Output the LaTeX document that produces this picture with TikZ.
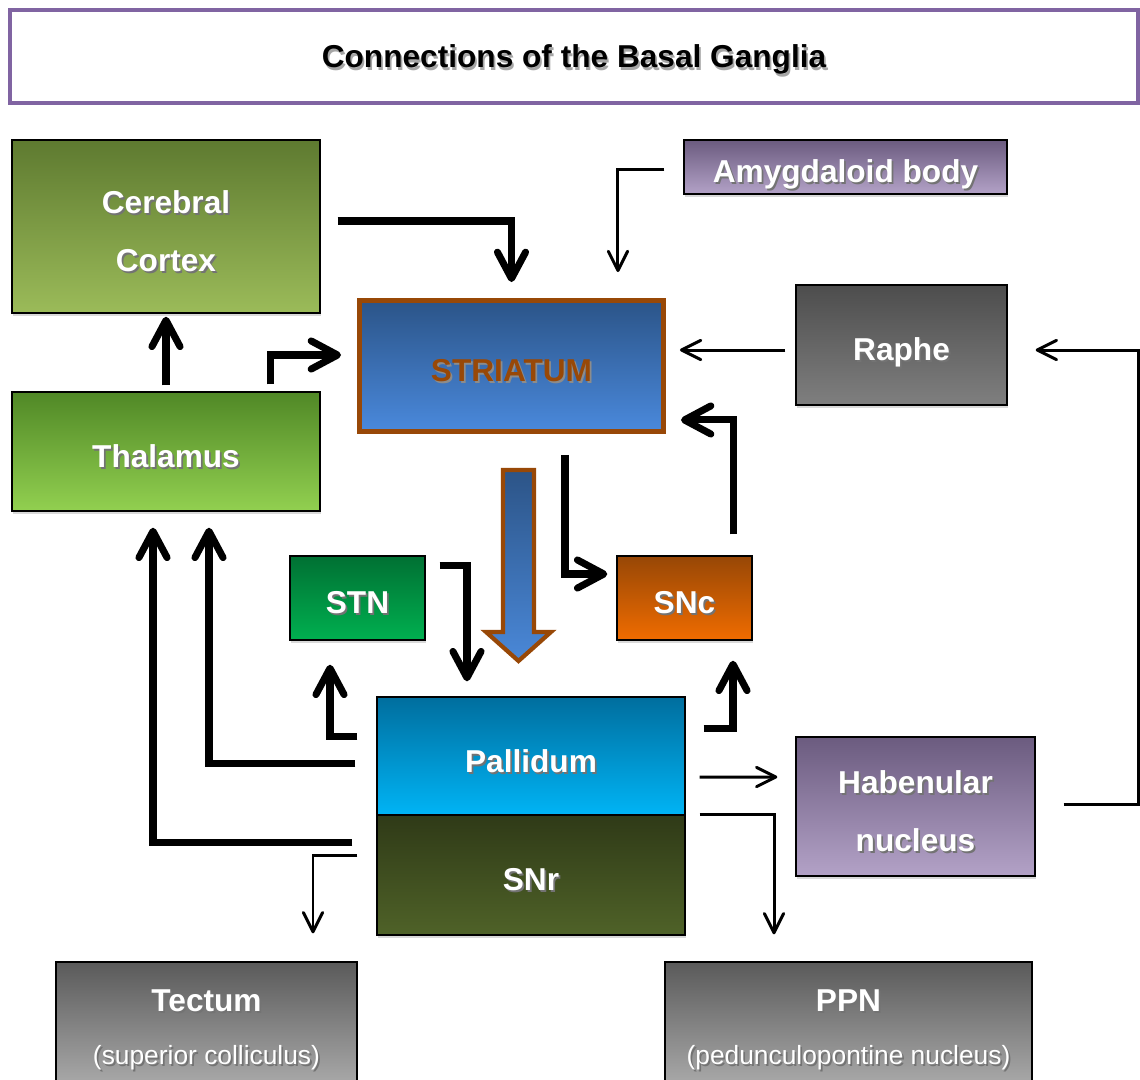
\documentclass[tikz,border=0pt]{standalone}
\usepackage{fontspec}
\setmainfont{Liberation Sans}
\usetikzlibrary{positioning,shadows,arrows.meta}

\definecolor{titlepurple}{HTML}{8064A2}
\definecolor{brownc}{HTML}{984807}
% text with a soft shadow, set a little lower in its box
\newcommand{\shd}[2][black!55]{\raisebox{-4.6pt}[\height][\depth]{\rlap{\kern1pt\raisebox{-1.2pt}{\textcolor{#1}{#2}}}#2}\vphantom{p}}

\begin{document}
\begin{tikzpicture}[
    box/.style={draw=black, line width=0.8pt, text=white, inner sep=0pt, align=center,
        font=\fontsize{18}{33}\selectfont\bfseries,
        drop shadow={opacity=0.3, shadow xshift=0.6pt, shadow yshift=-1.6pt}},
    bigarr/.style={line width=4pt, -{Straight Barb[length=15pt,width=16pt,round]}},
    smallarr/.style={line width=1.7pt, -{Straight Barb[length=11pt,width=11pt,round]}}
]
   \useasboundingbox (0,0) rectangle (22.8,-21.58);
   \clip (0,0) rectangle (22.8,-21.58);

   % title
   \node[draw=titlepurple, line width=2.3pt, minimum width=22.56cm, minimum height=1.86cm, text depth=0pt,
         font=\fontsize{18}{20}\selectfont\bfseries] (title) at (11.48,-1.13)
         {\rlap{\kern1pt\raisebox{-1.2pt}{\textcolor{black!35}{Connections of the Basal Ganglia}}}Connections of the Basal Ganglia};

   % boxes
   \node[box, top color={rgb,255:red,94;green,122;blue,48}, bottom color={rgb,255:red,155;green,187;blue,89},
         minimum width=6.16cm, minimum height=3.46cm] (cortex) at (3.32,-4.53) {\shd{Cerebral}\\\shd{Cortex}};
   \node[box, top color={rgb,255:red,80;green,136;blue,38}, bottom color={rgb,255:red,146;green,208;blue,80},
         minimum width=6.16cm, minimum height=2.38cm] (thal) at (3.32,-9.03) {\shd{Thalamus}};
   \node[box, draw=brownc, line width=2.8pt, text=brownc, top color={rgb,255:red,43;green,84;blue,136},
         bottom color={rgb,255:red,74;green,137;blue,220},
         minimum width=6.08cm, minimum height=2.62cm] (striatum) at (10.23,-7.32) {\shd[black!45]{STRIATUM}};
   \node[box, top color={rgb,255:red,107;green,91;blue,127}, bottom color={rgb,255:red,179;green,162;blue,199},
         minimum width=6.46cm, minimum height=1.08cm] (amyg) at (16.91,-3.34) {\shd{Amygdaloid body}};
   \node[box, top color={rgb,255:red,77;green,77;blue,77}, bottom color={rgb,255:red,127;green,127;blue,127},
         minimum width=4.22cm, minimum height=2.4cm] (raphe) at (18.03,-6.9) {\shd{Raphe}};
   \node[box, top color={rgb,255:red,0;green,112;blue,51}, bottom color={rgb,255:red,0;green,176;blue,80},
         minimum width=2.7cm, minimum height=1.68cm] (stn) at (7.15,-11.96) {\shd{STN}};
   \node[box, top color={rgb,255:red,151;green,71;blue,6}, bottom color={rgb,255:red,240;green,108;blue,0},
         minimum width=2.7cm, minimum height=1.68cm] (snc) at (13.69,-11.96) {\shd{SNc}};
   \node[box, top color={rgb,255:red,0;green,110;blue,158}, bottom color={rgb,255:red,0;green,180;blue,245},
         minimum width=6.16cm, minimum height=2.36cm] (pall) at (10.62,-15.12) {\shd{Pallidum}};
   \node[box, top color={rgb,255:red,47;green,58;blue,23}, bottom color={rgb,255:red,79;green,98;blue,40},
         minimum width=6.16cm, minimum height=2.4cm] (snr) at (10.62,-17.5) {\shd{SNr}};
   \node[box, top color={rgb,255:red,107;green,91;blue,127}, bottom color={rgb,255:red,179;green,162;blue,199},
         minimum width=4.78cm, minimum height=2.78cm] (haben) at (18.31,-16.13) {\shd{Habenular}\\\shd{nucleus}};
   \node[box, top color={rgb,255:red,90;green,90;blue,90}, bottom color={rgb,255:red,168;green,168;blue,168},
         font=\fontsize{15}{30}\selectfont,
         minimum width=6.02cm, minimum height=2.42cm] (tectum) at (4.13,-20.45)
         {{\fontsize{18}{30}\selectfont\bfseries\shd{Tectum}}\\\shd{(superior colliculus)}};
   \node[box, top color={rgb,255:red,90;green,90;blue,90}, bottom color={rgb,255:red,168;green,168;blue,168},
         font=\fontsize{15}{30}\selectfont,
         minimum width=7.34cm, minimum height=2.42cm] (ppn) at (16.97,-20.45)
         {{\fontsize{18}{30}\selectfont\bfseries\shd{PPN}}\\\shd{(pedunculopontine nucleus)}};

   % connections
   \draw[bigarr] ([xshift=0.34cm,yshift=0.11cm]cortex.east) -| ([yshift=0.32cm]striatum.north);
   \draw[smallarr] ([xshift=-0.38cm,yshift=-0.04cm]amyg.west) -| ([xshift=-0.96cm,yshift=0.52cm]striatum.north east);
   \draw[bigarr] ([yshift=0.12cm]thal.north) -- ([yshift=-0.06cm]cortex.south);
   \draw[bigarr] ([xshift=-1cm,yshift=0.14cm]thal.north east) |- ([xshift=-0.32cm,yshift=0.22cm]striatum.west);
   \draw[smallarr] ([xshift=-0.2cm,yshift=-0.1cm]raphe.west) -- ([xshift=0.28cm,yshift=0.32cm]striatum.east);
   \draw[bigarr] ([xshift=-0.38cm,yshift=0.42cm]snc.north east) |- ([xshift=0.3cm,yshift=0.28cm]striatum.south east);
   \draw[bigarr] ([xshift=1.07cm,yshift=-0.42cm]striatum.south) |- ([xshift=-0.18cm,yshift=0.48cm]snc.west);

   % striatum to pallidum
   \draw[draw=brownc, line width=2.4pt, top color={rgb,255:red,44;green,84;blue,135},
         bottom color={rgb,255:red,74;green,136;blue,216}]
      ([xshift=-0.17cm,yshift=-0.72cm]striatum.south) -- ++(0.62,0) -- ++(0,-3.24) -- ++(0.34,0)
      -- ++(-0.65,-0.58) -- ++(-0.65,0.58) -- ++(0.34,0) -- cycle;

   \draw[bigarr] ([xshift=0.28cm,yshift=-0.2cm]stn.north east) -| ([xshift=-1.28cm,yshift=0.3cm]pall.north);
   \draw[bigarr] ([xshift=-0.38cm,yshift=-0.8cm]pall.north west) -| ([xshift=-0.55cm,yshift=-0.48cm]stn.south);
   \draw[bigarr] ([xshift=0.36cm,yshift=-0.64cm]pall.north east) -| ([xshift=0.97cm,yshift=-0.4cm]snc.south);
   \draw[bigarr] ([xshift=-0.42cm,yshift=-0.14cm]pall.west) -| ([xshift=0.86cm,yshift=-0.32cm]thal.south);
   \draw[bigarr] ([xshift=-0.48cm,yshift=0.66cm]snr.west) -| ([xshift=-0.26cm,yshift=-0.32cm]thal.south);
   \draw[smallarr] ([xshift=-0.38cm,yshift=0.4cm]snr.west) -| ([xshift=2.13cm,yshift=0.56cm]tectum.north);
   \draw[smallarr] ([xshift=0.28cm,yshift=-0.42cm]pall.east) -- ([xshift=-0.36cm,yshift=0.59cm]haben.west);
   \draw[smallarr] ([xshift=0.28cm]snr.north east) -| ([xshift=-1.49cm,yshift=0.54cm]ppn.north);
   \draw[smallarr] ([xshift=0.56cm,yshift=0.05cm]haben.east) -- ++(1.5,0) |- ([xshift=0.56cm,yshift=-0.1cm]raphe.east);
\end{tikzpicture}
\end{document}
